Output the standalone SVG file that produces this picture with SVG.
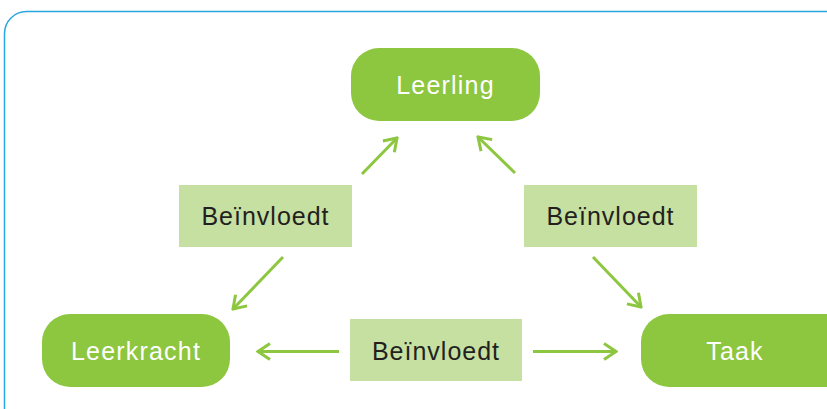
<svg xmlns="http://www.w3.org/2000/svg" width="827" height="409" viewBox="0 0 827 409">
<defs>
<style>
.frame{fill:none;stroke:#29a8e0;stroke-width:1.5}
.node{fill:#8dc63f}
.lbl{fill:#c5e0a0}
.nt{font-family:"Liberation Sans",Arial,sans-serif;font-size:25px;fill:#ffffff;text-anchor:middle;letter-spacing:1.2px}
.lt{font-family:"Liberation Sans",Arial,sans-serif;font-size:25px;fill:#231f20;text-anchor:middle;letter-spacing:1px}
.c{fill:none;stroke:#8dc63f;stroke-width:3;marker-end:url(#ah)}
</style>
<marker id="ah" viewBox="0 0 16 20" refX="14" refY="10" markerWidth="16" markerHeight="20" markerUnits="userSpaceOnUse" orient="auto">
<path d="M2,2 L14,10 L2,18" fill="none" stroke="#8dc63f" stroke-width="3"/>
</marker>
</defs>
<rect class="frame" x="4.5" y="11.5" width="860" height="430" rx="22"/>
<g id="connectors">
<line class="c" x1="362" y1="174" x2="397" y2="138"/>
<line class="c" x1="515" y1="173" x2="478" y2="137"/>
<line class="c" x1="283" y1="257" x2="233" y2="309"/>
<line class="c" x1="593" y1="257" x2="641" y2="307"/>
<line class="c" x1="339" y1="351.5" x2="258" y2="351.5"/>
<line class="c" x1="533" y1="351.5" x2="616" y2="351.5"/>
</g>
<g id="leerling">
<rect class="node" x="351" y="48" width="189" height="73" rx="28"/>
<text class="nt" x="445.5" y="94">Leerling</text>
</g>
<g id="leerkracht">
<rect class="node" x="42" y="314" width="188" height="73" rx="28"/>
<text class="nt" x="136" y="360">Leerkracht</text>
</g>
<g id="taak">
<rect class="node" x="641" y="314" width="220" height="73" rx="28"/>
<text class="nt" x="735" y="360">Taak</text>
</g>
<g id="beinvloedt-links">
<rect class="lbl" x="179" y="185" width="173" height="62"/>
<text class="lt" x="265.5" y="225">Beïnvloedt</text>
</g>
<g id="beinvloedt-rechts">
<rect class="lbl" x="524" y="185" width="173" height="62"/>
<text class="lt" x="610.5" y="225">Beïnvloedt</text>
</g>
<g id="beinvloedt-onder">
<rect class="lbl" x="350" y="319" width="172" height="62"/>
<text class="lt" x="436" y="360">Beïnvloedt</text>
</g>
</svg>
